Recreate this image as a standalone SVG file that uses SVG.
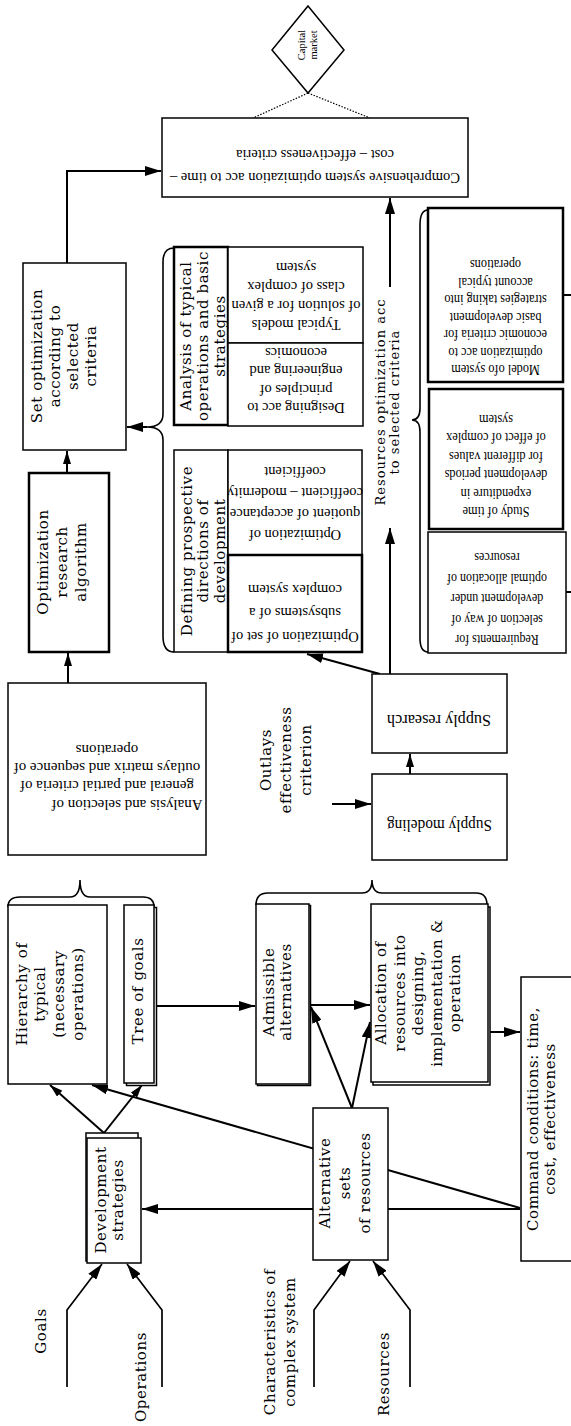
<svg xmlns="http://www.w3.org/2000/svg" width="571" height="1426" viewBox="0 0 571 1426">
<style>
.box{fill:#fff;stroke:#000;stroke-width:1.5}
.bk{fill:#fff;stroke:#000;stroke-width:2.5}
.ln{fill:none;stroke:#000;stroke-width:2}
.in{fill:none;stroke:#000;stroke-width:1.7}
.th{fill:none;stroke:#000;stroke-width:1.6}
.dot{fill:none;stroke:#000;stroke-width:1.2;stroke-dasharray:1.5 1.5}
.t{font-family:"DejaVu Serif",serif;font-size:15px;letter-spacing:0.6px;fill:#000}
.s{font-family:"Liberation Serif",serif;font-size:14.5px;fill:#000}
.c{font-family:"Liberation Serif",serif;font-size:15px;fill:#000}
</style>
<defs>
<marker id="a" viewBox="0 0 16 10" refX="16" refY="5" markerWidth="16" markerHeight="10" orient="auto" markerUnits="userSpaceOnUse"><path d="M0,0L16,5L0,10z"/></marker>
<marker id="b" viewBox="0 0 13 8" refX="13" refY="4" markerWidth="13" markerHeight="8" orient="auto" markerUnits="userSpaceOnUse"><path d="M0,0L13,4L0,8z"/></marker>
</defs>
<rect width="571" height="1426" fill="#fff"/>

<g id="connectors">
<path class="dot" d="M308,93L253,118M308,93L370,118"/>
<path class="ln" d="M67,263V171H161" marker-end="url(#a)"/>
<path class="ln" d="M67,473V451" marker-end="url(#b)"/>
<path class="ln" d="M68,683V653" marker-end="url(#b)"/>
<path class="th" d="M174,248Q163,248 163,262L163,414Q163,427 147,427Q163,427 163,440L163,636Q163,652 174,652"/>
<path class="ln" d="M147,427H127" marker-end="url(#a)"/>
<path class="th" d="M428,210Q420,210 420,225L420,408Q420,420 412,420Q420,420 420,432L420,638Q420,652 428,652"/>
<path class="ln" d="M390,674V528" marker-end="url(#a)"/>
<path class="ln" d="M390,287V198" marker-end="url(#a)"/>
<path class="ln" d="M380,674L307,654" marker-end="url(#a)"/>
<path class="ln" d="M410,774V754" marker-end="url(#b)"/>
<path class="ln" d="M332,804H371" marker-end="url(#a)"/>
<path class="th" d="M8,907Q8,897 20,897L70,897Q80,897 80,880Q80,897 90,897L143,897Q154,897 154,907"/>
<path class="th" d="M256,905Q256,893 268,893L362,893Q372,893 372,880Q372,893 382,893L476,893Q487,893 487,905"/>
<path class="ln" d="M154,1006H255" marker-end="url(#a)"/>
<path class="ln" d="M309,1005H370" marker-end="url(#a)"/>
<path class="ln" d="M488,1032H520" marker-end="url(#a)"/>
<path class="ln" d="M352,1108L311,1007" marker-end="url(#a)"/>
<path class="ln" d="M352,1108L370,1022" marker-end="url(#a)"/>
<path class="ln" d="M104,1133L50,1085" marker-end="url(#b)"/>
<path class="ln" d="M104,1133L142,1085" marker-end="url(#b)"/>
<path class="ln" d="M520,1208L92,1085" marker-end="url(#a)"/>
<path class="ln" d="M520,1209H142" marker-end="url(#a)"/>
<path class="in" d="M67,1387V1310L102,1264" marker-end="url(#a)"/>
<path class="in" d="M162,1387V1310L127,1264" marker-end="url(#a)"/>
<path class="in" d="M314,1387V1310L350,1261" marker-end="url(#a)"/>
<path class="in" d="M410,1387V1310L373,1261" marker-end="url(#a)"/>
<path class="ln" d="M563,295H571M566,592H571"/>
</g>

<g id="capital-market">
<polygon class="box" points="308,6 344,50 308,93 272,50"/>
<text transform="translate(307,45) rotate(-90)" text-anchor="middle" font-family="Liberation Serif,serif" font-size="10.5"><tspan x="0" y="-2.3">Capital</tspan><tspan x="0" y="9.7">market</tspan></text>
</g>

<g id="comprehensive">
<rect class="box" x="162" y="118" width="306" height="79"/>
<text class="s" transform="translate(315,167) rotate(180)" text-anchor="middle"><tspan x="0" y="-6.4">Comprehensive system optimization acc to time –</tspan><tspan x="0" y="16.6">cost – effectiveness criteria</tspan></text>
</g>

<g id="set-optimization">
<rect class="box" x="23" y="263" width="103" height="187"/>
<text class="t" transform="translate(64,356) rotate(-90)" text-anchor="middle"><tspan x="0" y="-21.75">Set optimization</tspan><tspan x="0" y="-3.75">according  to</tspan><tspan x="0" y="14.25">selected</tspan><tspan x="0" y="32.25">criteria</tspan></text>
</g>

<g id="optimization-research">
<rect class="bk" x="29" y="473" width="80" height="179"/>
<text class="t" transform="translate(62,562) rotate(-90)" text-anchor="middle"><tspan x="0" y="-13.75">Optimization</tspan><tspan x="0" y="5.25">research</tspan><tspan x="0" y="24.25">algorithm</tspan></text>
</g>

<g id="analysis-selection">
<rect class="box" x="8" y="683" width="198" height="172"/>
<text class="s" style="font-size:15px" transform="translate(107,777.5) rotate(180)" text-anchor="middle"><tspan x="-20" y="-22.2">Analysis and selection of</tspan><tspan x="0" y="-3.9">general and partial criteria of</tspan><tspan x="0" y="14.4">outlays matrix and sequence of</tspan><tspan x="0" y="32.7">operations</tspan></text>
</g>

<g id="analysis-typical">
<rect class="bk" x="174" y="247" width="54" height="178" stroke-width="2"/>
<text class="t" transform="translate(203,336) rotate(-90)" text-anchor="middle"><tspan x="0" y="-11.75">Analysis of typical</tspan><tspan x="0" y="5.25">operations and basic</tspan><tspan x="0" y="22.25">strategies</tspan></text>
</g>

<g id="typical-models">
<rect class="box" x="228" y="247" width="135" height="96"/>
<text class="s" transform="translate(296,296) rotate(180)" text-anchor="middle"><tspan x="0" y="-23.6">Typical models</tspan><tspan x="0" y="-4.6">of solution for a given</tspan><tspan x="0" y="14.4">class of complex</tspan><tspan x="0" y="33.4">system</tspan></text>
</g>

<g id="designing">
<rect class="box" x="228" y="343" width="135" height="83"/>
<text class="s" transform="translate(296,380.5) rotate(180)" text-anchor="middle"><tspan x="0" y="-22.55">Designing acc to</tspan><tspan x="0" y="-4.25">principles of</tspan><tspan x="0" y="14.05">engineering and</tspan><tspan x="0" y="32.35">economics</tspan></text>
</g>

<g id="defining">
<rect class="box" x="174" y="450" width="54" height="202"/>
<text class="t" transform="translate(203,551) rotate(-90)" text-anchor="middle"><tspan x="0" y="-11.25">Defining prospective</tspan><tspan x="0" y="5.25">directions of</tspan><tspan x="0" y="21.75">development</tspan></text>
</g>

<g id="quotient">
<rect class="box" x="228" y="450" width="134" height="105"/>
<text class="s" transform="translate(295,503.5) rotate(180)" text-anchor="middle"><tspan x="0" y="-26.6">Optimization of</tspan><tspan x="0" y="-5.6">quotient of acceptance</tspan><tspan x="0" y="15.4">coefficient – modernity</tspan><tspan x="0" y="36.4">coefficient</tspan></text>
</g>

<g id="subsystems">
<rect class="bk" x="228" y="555" width="134" height="97"/>
<text class="s" transform="translate(295,613) rotate(180)" text-anchor="middle"><tspan x="0" y="-18.6">Optimization of set of</tspan><tspan x="0" y="4.9">subsystems of a</tspan><tspan x="0" y="28.4">complex system</tspan></text>
</g>

<g id="resources-optimization">
<text class="t" style="font-size:13px;letter-spacing:1px" transform="translate(387.5,402) rotate(-90)" text-anchor="middle"><tspan x="0" y="-2.45">Resources optimization acc</tspan><tspan x="0" y="11.55">to selected criteria</tspan></text>
</g>

<g id="model-system">
<rect class="bk" x="428" y="208" width="135" height="174" stroke-width="2"/>
<text class="c" transform="translate(495.5,317.5) rotate(180) scale(0.82,1)" text-anchor="middle"><tspan x="0" y="-47.6">Model ofo system</tspan><tspan x="0" y="-30.1">optimization acc to</tspan><tspan x="0" y="-12.6">economic criteria for</tspan><tspan x="0" y="4.9">basic development</tspan><tspan x="0" y="22.4">strategies taking into</tspan><tspan x="0" y="39.9">account typical</tspan><tspan x="0" y="57.4">operations</tspan></text>
</g>

<g id="study-time">
<rect class="bk" x="429" y="389" width="134" height="140" stroke-width="2"/>
<text class="c" transform="translate(496,466) rotate(180) scale(0.82,1)" text-anchor="middle"><tspan x="0" y="-41.35">Study of time</tspan><tspan x="0" y="-22.85">expenditure in</tspan><tspan x="0" y="-4.35">development periods</tspan><tspan x="0" y="14.15">for different values</tspan><tspan x="0" y="32.65">of effect of complex</tspan><tspan x="0" y="51.15">system</tspan></text>
</g>

<g id="requirements">
<rect class="box" x="428" y="532" width="138" height="121"/>
<text class="c" transform="translate(497,599) rotate(180) scale(0.8,1)" text-anchor="middle"><tspan x="0" y="-36.1">Requirements for</tspan><tspan x="0" y="-15.6">selection of way of</tspan><tspan x="0" y="4.9">development under</tspan><tspan x="0" y="25.4">optimal allocation of</tspan><tspan x="0" y="45.9">resources</tspan></text>
</g>

<g id="supply-research">
<rect class="box" x="372" y="674" width="135" height="79"/>
<text class="s" style="font-size:16px" transform="translate(439,721) rotate(180)" text-anchor="middle" y="5.6" textLength="104" lengthAdjust="spacingAndGlyphs">Supply research</text>
</g>

<g id="supply-modeling">
<rect class="box" x="372" y="774" width="135" height="86"/>
<text class="s" style="font-size:16px" transform="translate(439.5,826) rotate(180)" text-anchor="middle" y="5.6" textLength="105" lengthAdjust="spacingAndGlyphs">Supply modeling</text>
</g>

<g id="outlays">
<text class="t" transform="translate(286,760) rotate(-90)" text-anchor="middle"><tspan x="0" y="-14.75">Outlays</tspan><tspan x="0" y="5.25">effectiveness</tspan><tspan x="0" y="25.25">criterion</tspan></text>
</g>

<g id="hierarchy">
<rect class="box" x="8" y="905" width="99" height="179"/>
<text class="t" transform="translate(49.5,994) rotate(-90)" text-anchor="middle"><tspan x="0" y="-22.8">Hierarchy of</tspan><tspan x="0" y="-4.1">typical</tspan><tspan x="0" y="14.6">(necessary</tspan><tspan x="0" y="33.3">operations)</tspan></text>
</g>

<g id="tree-of-goals">
<rect class="box" x="126.5" y="907.5" width="30" height="178"/>
<rect class="box" x="124" y="905" width="30" height="178"/>
<text class="t" transform="translate(138,991) rotate(-90)" text-anchor="middle" y="5.25">Tree of goals</text>
</g>

<g id="admissible">
<rect class="box" x="257.5" y="905.5" width="53" height="180"/>
<rect class="box" x="256" y="904" width="53" height="180"/>
<text class="t" transform="translate(277,992) rotate(-90)" text-anchor="middle"><tspan x="0" y="-3.25">Admissible</tspan><tspan x="0" y="13.75">alternatives</tspan></text>
</g>

<g id="allocation">
<rect class="box" x="373" y="907" width="117" height="178"/>
<rect class="box" x="371" y="904" width="117" height="178"/>
<text class="t" transform="translate(418,993) rotate(-90)" text-anchor="middle"><tspan x="0" y="-31.75">Allocation of</tspan><tspan x="0" y="-13.25">resources into</tspan><tspan x="0" y="5.25">designing,</tspan><tspan x="0" y="23.75">implementation &amp;</tspan><tspan x="0" y="42.25">operation</tspan></text>
</g>

<g id="command-conditions">
<rect class="box" x="521" y="977" width="60" height="284"/>
<text class="t" transform="translate(541.5,1119) rotate(-90)" text-anchor="middle"><tspan x="0" y="-3.25">Command conditions: time,</tspan><tspan x="0" y="13.75">cost, effectiveness</tspan></text>
</g>

<g id="development-strategies">
<rect class="box" x="86" y="1133" width="52" height="128"/>
<rect class="box" x="87" y="1138" width="54" height="125"/>
<text class="t" transform="translate(109.5,1200) rotate(-90)" text-anchor="middle"><tspan x="0" y="-3.25">Development</tspan><tspan x="0" y="13.75">strategies</tspan></text>
</g>

<g id="alternative-sets">
<rect class="box" x="313" y="1108" width="75" height="152"/>
<text class="t" transform="translate(345,1183) rotate(-90)" text-anchor="middle"><tspan x="0" y="-14.75">Alternative</tspan><tspan x="0" y="5.25">sets</tspan><tspan x="0" y="25.25">of resources</tspan></text>
</g>

<g id="inputs">
<text class="t" transform="translate(41,1331) rotate(-90)" text-anchor="middle" y="5.25">Goals</text>
<text class="t" transform="translate(141,1377) rotate(-90)" text-anchor="middle" y="5.25">Operations</text>
<text class="t" transform="translate(280,1342) rotate(-90)" text-anchor="middle"><tspan x="0" y="-4.75">Characteristics of</tspan><tspan x="0" y="15.25">complex  system</tspan></text>
<text class="t" transform="translate(384,1374) rotate(-90)" text-anchor="middle" y="5.25">Resources</text>
</g>
</svg>
